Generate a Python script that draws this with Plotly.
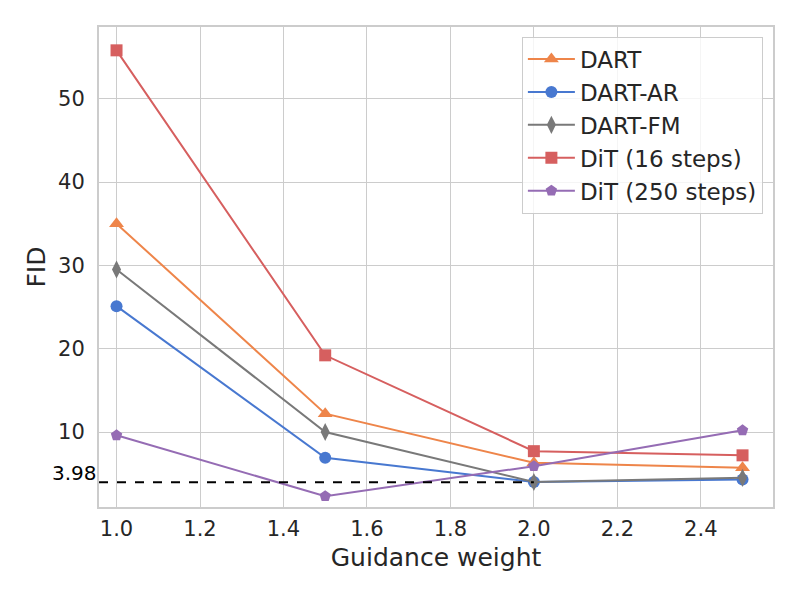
import plotly.graph_objects as go

# guidance weights on the x axis
guidance = [1.0, 1.5, 2.0, 2.5]

# FID values
fid_dart = [35.0, 12.2, 6.3, 5.7]
fid_dart_ar = [25.1, 6.9, 4.0, 4.3]
fid_dart_fm = [29.5, 10.0, 4.0, 4.5]
fid_dit16 = [55.8, 19.2, 7.7, 7.2]
fid_dit250 = [9.6, 2.3, 5.9, 10.2]

series_names = ['DART', 'DART-AR', 'DART-FM', 'DiT (16 steps)', 'DiT (250 steps)']
series_values = [fid_dart, fid_dart_ar, fid_dart_fm, fid_dit16, fid_dit250]
series_colors = ['#ee854a', '#4878d0', '#797979', '#d65f5f', '#956cb4']
series_symbols = ['triangle-up', 'circle', 'diamond-tall', 'square', 'pentagon']
series_sizes = [13, 12, 13, 12, 12]

ref_fid = 3.98
ref_x_end = 2.0
x_range = [0.958, 2.573]
y_range = [1.0, 58.6]

fig = go.Figure()

for name, vals, col, sym, sz in zip(series_names, series_values, series_colors,
                                    series_symbols, series_sizes):
    fig.add_trace(go.Scatter(
        x=guidance, y=vals, name=name, mode='lines+markers',
        line=dict(color=col, width=2),
        marker=dict(symbol=sym, size=sz, color=col, line=dict(width=0)),
    ))

# 参考线
fig.add_trace(go.Scatter(
    x=[x_range[0], ref_x_end], y=[ref_fid, ref_fid], mode='lines',
    line=dict(color='black', width=2, dash='dash'), showlegend=False,
    hoverinfo='skip',
))

fig.add_annotation(
    x=0, xref='paper', y=ref_fid, yref='y', text=f'{ref_fid:.2f}',
    showarrow=False, xanchor='right', yanchor='bottom', yshift=-5,
    font=dict(size=20, color='black'),
)

axis_style = dict(
    showgrid=True, gridcolor='#cccccc', gridwidth=1,
    showline=True, linecolor='#cccccc', linewidth=2, mirror=True,
    zeroline=False, ticks='', tickfont=dict(size=21, color='#262626'),
)

# page body adds an 8px offset, margins compensate
fig.update_layout(
    width=800, height=600,
    margin=dict(l=91, r=35, t=19, b=101),
    plot_bgcolor='white', paper_bgcolor='white',
    font=dict(family='DejaVu Sans', color='#262626'),
    xaxis=dict(range=x_range, dtick=0.2, tickformat='.1f',
               ticklabelstandoff=2,
               title=dict(text='Guidance weight', font=dict(size=25), standoff=8),
               **axis_style),
    yaxis=dict(range=y_range, tickvals=[10, 20, 30, 40, 50],
               ticklabelstandoff=8,
               title=dict(text='FID', font=dict(size=25), standoff=5),
               **axis_style),
    legend=dict(x=0.985, y=0.98, xanchor='right', yanchor='top',
                bgcolor='rgba(255,255,255,0.8)', bordercolor='#cccccc',
                borderwidth=1, font=dict(size=23, color='#262626'),
                itemwidth=47, tracegroupgap=0),
    showlegend=True,
)

fig.write_html("out.html")
